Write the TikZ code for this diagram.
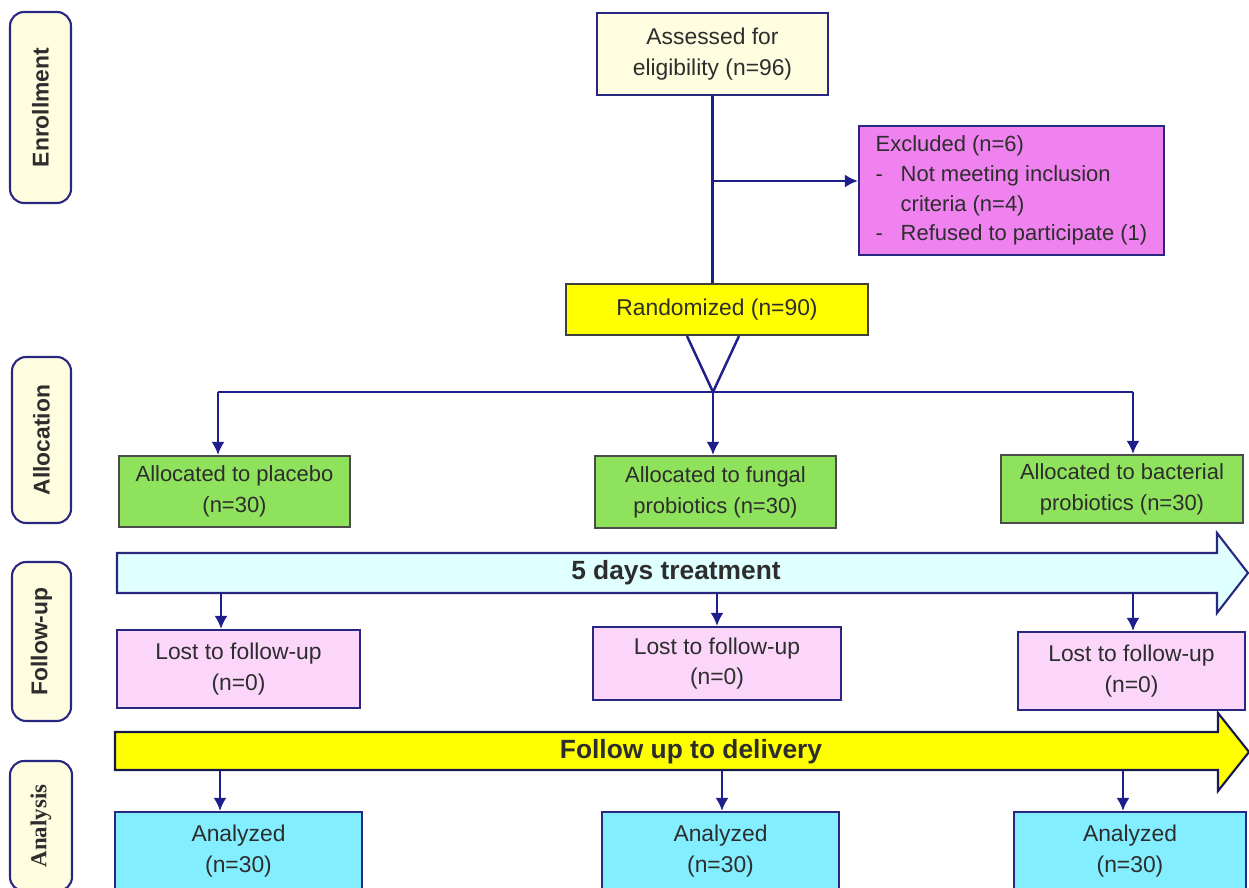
\documentclass[tikz,border=0pt]{standalone}
\usepackage{fontspec}
\setmainfont{Liberation Sans}
\newfontfamily\stageserif{Liberation Serif}
\usetikzlibrary{arrows.meta, calc}
\definecolor{FrameNavy}{RGB}{40, 40, 130}
\definecolor{LineNavy}{RGB}{30, 30, 140}
\definecolor{CreamFill}{RGB}{255, 253, 224}
\definecolor{ExclFill}{RGB}{240, 130, 240}
\definecolor{RandFill}{RGB}{255, 255, 0}
\definecolor{AllocFill}{RGB}{143, 226, 92}
\definecolor{TreatFill}{RGB}{224, 255, 255}
\definecolor{LostFill}{RGB}{252, 214, 250}
\definecolor{AnalFill}{RGB}{130, 238, 255}
\definecolor{TextGray}{RGB}{45, 45, 45}
\newcommand{\exdash}{\makebox[0.5cm][l]{-}}
\newcommand{\exgap}{\hspace*{0.5cm}}

\begin{document}
\begin{tikzpicture}[
    x=0.02cm, y=-0.02cm,
    % --- Styles ---
    % Style for the study boxes
    box-style/.style={
        draw=FrameNavy,
        line width=1.2pt,
        align=center,
        text=TextGray,
        inner sep=2pt,
        font=\fontsize{13}{17.5}\selectfont
    },
    % Style for the stage labels on the left
    stage-style/.style={
        draw=FrameNavy,
        fill=CreamFill,
        line width=1.2pt,
        rounded corners=8pt,
        rotate=90,
        text=TextGray,
        font=\fontsize{13}{15}\selectfont\bfseries
    },
    % Style for the wide block arrows
    band-style/.style={
        draw=FrameNavy,
        line width=1.2pt
    },
    % Style for the text on the block arrows
    band-label/.style={
        text=TextGray,
        font=\fontsize{15}{18}\selectfont\bfseries
    },
    % Style for the plain lines
    flow-line/.style={
        draw=LineNavy,
        line width=1.4pt
    },
    % Style for the lines with a head
    flow-arrow/.style={
        flow-line,
        -{Latex[length=2.6mm, width=2.6mm]}
    }
]
\useasboundingbox (0,0) rectangle (1249,888);

% --- Stage labels ---
\node[stage-style, minimum width=3.82cm, minimum height=1.22cm] (enroll) at (40.5,107.5) {Enrollment};
\node[stage-style, minimum width=3.32cm, minimum height=1.18cm] (alloc) at (41.5,440) {Allocation};
\node[stage-style, minimum width=3.18cm, minimum height=1.18cm] (follow) at (41.5,641.5) {Follow-up};
\node[stage-style, minimum width=2.6cm, minimum height=1.24cm, font=\fontsize{13}{15}\selectfont\stageserif\bfseries] (analysis) at (41,826) {Analysis};

% --- Enrollment ---
\node[box-style, fill=CreamFill, minimum width=4.62cm, minimum height=1.64cm] (assess) at (712.5,54) {Assessed for\\eligibility (n=96)};
\node[box-style, fill=ExclFill, minimum width=6.1cm, minimum height=2.58cm, align=left, font=\fontsize{12.5}{17}\selectfont] (excl) at (1011.5,190.5)
    {Excluded (n=6)\\\exdash Not meeting inclusion\\\exgap criteria (n=4)\\\exdash Refused to participate (1)};
\node[box-style, fill=RandFill, draw=black!75, minimum width=6.04cm, minimum height=1.02cm] (rand) at (717,309.5) {Randomized (n=90)};

\draw[flow-line] (assess.south) -- (assess.south |- rand.north);
\coordinate (ex) at (713,181);
\draw[flow-arrow] (ex) -- (ex -| excl.west);

% --- Allocation ---
\node[box-style, fill=AllocFill, draw=black!70, minimum width=4.62cm, minimum height=1.42cm, font=\fontsize{12.5}{17.5}\selectfont] (place) at (234.5,491.5) {Allocated to placebo\\(n=30)};
\node[box-style, fill=AllocFill, draw=black!70, minimum width=4.82cm, minimum height=1.44cm, font=\fontsize{12.5}{17.5}\selectfont] (fungal) at (715.5,492) {Allocated to fungal\\probiotics (n=30)};
\node[box-style, fill=AllocFill, draw=black!70, minimum width=4.84cm, minimum height=1.36cm, font=\fontsize{12.5}{17.5}\selectfont] (bact) at (1122,489) {Allocated to bacterial\\probiotics (n=30)};

\coordinate (split) at (713,392);
\coordinate (s1) at (218,392);
\coordinate (s3) at (1133,392);
\draw[flow-line] ($(rand.south)+(-30,0)$) -- (split) -- ($(rand.south)+(22,0)$);
\draw[flow-line] (s1) -- (s3);
\draw[flow-arrow] (s1) -- (s1 |- place.north);
\draw[flow-arrow] (split) -- (split |- fungal.north);
\draw[flow-arrow] (s3) -- (s3 |- bact.north);

% --- Follow-up ---
\filldraw[band-style, fill=TreatFill] (117,553) -- (1217,553) -- (1217,533) -- (1248,573)
    -- (1217,613) -- (1217,593) -- (117,593) -- cycle;
\node[band-label] (treat) at (676,573) {5 days treatment};

\node[box-style, fill=LostFill, minimum width=4.86cm, minimum height=1.56cm] (lost1) at (238.5,669) {Lost to follow-up\\(n=0)};
\node[box-style, fill=LostFill, minimum width=4.96cm, minimum height=1.46cm] (lost2) at (717,663.5) {Lost to follow-up\\(n=0)};
\node[box-style, fill=LostFill, minimum width=4.54cm, minimum height=1.56cm] (lost3) at (1131.5,671) {Lost to follow-up\\(n=0)};

\coordinate (t1) at (221,593);
\coordinate (t2) at (717,593);
\coordinate (t3) at (1133,593);
\draw[flow-arrow] (t1) -- (t1 |- lost1.north);
\draw[flow-arrow] (t2) -- (t2 |- lost2.north);
\draw[flow-arrow] (t3) -- (t3 |- lost3.north);

% --- Analysis ---
\filldraw[band-style, fill=RandFill, draw=FrameNavy!60!black] (115,732) -- (1218,732) -- (1218,713) -- (1249,752)
    -- (1218,791) -- (1218,770) -- (115,770) -- cycle;
\node[band-label] (deliv) at (691,752) {Follow up to delivery};

\node[box-style, fill=AnalFill, minimum width=4.94cm, minimum height=1.56cm] (an1) at (238.5,851) {Analyzed\\(n=30)};
\node[box-style, fill=AnalFill, minimum width=4.74cm, minimum height=1.56cm] (an2) at (720.5,851) {Analyzed\\(n=30)};
\node[box-style, fill=AnalFill, minimum width=4.64cm, minimum height=1.56cm] (an3) at (1130,851) {Analyzed\\(n=30)};

\coordinate (d1) at (220,770);
\coordinate (d2) at (722,770);
\coordinate (d3) at (1123,770);
\draw[flow-arrow] (d1) -- (d1 |- an1.north);
\draw[flow-arrow] (d2) -- (d2 |- an2.north);
\draw[flow-arrow] (d3) -- (d3 |- an3.north);

\end{tikzpicture}
\end{document}
